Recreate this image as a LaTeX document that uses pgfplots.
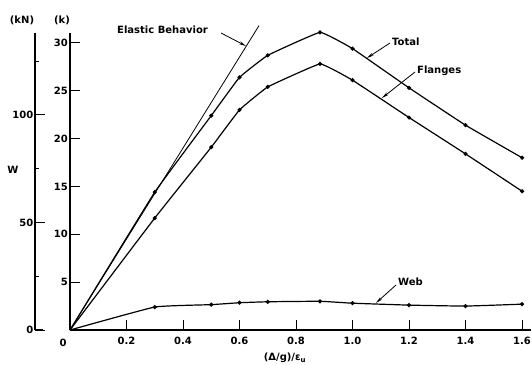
\documentclass[border=0pt]{standalone}
\usepackage{pgfplots}
\pgfplotsset{compat=1.18}
\usepackage{fontspec}
\setmainfont{DejaVu Sans}
\usetikzlibrary{arrows.meta}
\newcommand{\lf}{\fontsize{10}{12}\selectfont\bfseries}
\begin{document}
\begin{tikzpicture}[font=\lf]
\useasboundingbox (-70pt,-34pt) rectangle (462pt,330pt);
% kN axis
\begin{axis}[
  at={(-35pt,0pt)}, anchor=south west, scale only axis,
  width=8pt, height=296.7pt,
  xmin=0, xmax=1, ymin=0, ymax=137.9,
  axis lines=left, axis line style={-, line width=1.2pt},
  xtick=\empty,
  ytick={0,50,100}, minor ytick={25,75,125},
  tick align=inside, major tick length=10pt, minor tick length=4pt,
  tick style={line width=1pt, black},
  /pgf/number format/assume math mode=true,
  yticklabel style={font=\lf, inner sep=1.5pt},
]
\addplot[draw=none] coordinates {(0,0)};
\end{axis}
% main axis (k)
\begin{axis}[
  at={(0pt,0pt)}, anchor=south west, scale only axis,
  width=460.5pt, height=296.7pt,
  xmin=0, xmax=1.63, ymin=0, ymax=31,
  axis lines=left, axis line style={-, line width=1.2pt},
  xtick={0.2,0.4,0.6,0.8,1.0,1.2,1.4,1.6},
  xticklabels={0.2,0.4,0.6,0.8,1.0,1.2,1.4,1.6},
  ytick={5,10,15,20,25,30},
  tick align=inside, major tick length=10pt,
  tick style={line width=1pt, black},
  /pgf/number format/assume math mode=true,
  xticklabel style={font=\lf, inner sep=2pt, yshift=-5pt},
  yticklabel style={font=\lf, inner sep=2pt},
  clip=false,
]
% Elastic behavior
\addplot[black, line width=0.8pt] coordinates {(0,0) (0.669,31.8)};
% Total
\addplot[black, line width=1.2pt, smooth, tension=0.15, mark=*, mark size=1.4pt, mark indices={2,...,10}] coordinates {
(0,0) (0.3,14.4) (0.5,22.4) (0.6,26.4) (0.7,28.7) (0.885,31.1) (1.0,29.4) (1.2,25.3) (1.4,21.4) (1.6,18.0)};
% Flanges
\addplot[black, line width=1.2pt, smooth, tension=0.15, mark=*, mark size=1.4pt, mark indices={2,...,10}] coordinates {
(0,0) (0.3,11.7) (0.5,19.1) (0.6,23.0) (0.7,25.4) (0.885,27.8) (1.0,26.1) (1.2,22.2) (1.4,18.4) (1.6,14.5)};
% Web
\addplot[black, line width=1.2pt, smooth, tension=0.2, mark=*, mark size=1.4pt, mark indices={2,...,10}] coordinates {
(0,0) (0.3,2.4) (0.5,2.65) (0.6,2.85) (0.7,2.95) (0.885,3.0) (1.0,2.8) (1.2,2.6) (1.4,2.5) (1.6,2.7)};
\end{axis}
% labels
\node at (-48pt,310pt) {(kN)};
\node at (-8pt,310pt) {(k)};
\node at (-57pt,160pt) {W};
\node at (-7pt,-13pt) {0};
\node at (215pt,-28pt) {(Δ/g)/ε\textsubscript{u}};
\node[anchor=west, inner sep=0pt] at (47pt,300pt) {Elastic Behavior};
\draw[line width=0.8pt, -{Stealth[length=7pt,width=3pt]}] (151pt,297pt) -- (176pt,284pt);
\node[anchor=west, inner sep=0pt] at (322pt,288pt) {Total};
\draw[line width=0.8pt, -{Stealth[length=7pt,width=3pt]}] (320pt,287pt) -- (297pt,272pt);
\node[anchor=west, inner sep=0pt] at (347pt,259pt) {Flanges};
\draw[line width=0.8pt, -{Stealth[length=7pt,width=3pt]}] (345pt,258pt) -- (312pt,232pt);
\node[anchor=west, inner sep=0pt] at (328pt,48pt) {Web};
\draw[line width=0.8pt, -{Stealth[length=7pt,width=3pt]}] (326pt,45pt) -- (306pt,27pt);
\end{tikzpicture}
\end{document}
